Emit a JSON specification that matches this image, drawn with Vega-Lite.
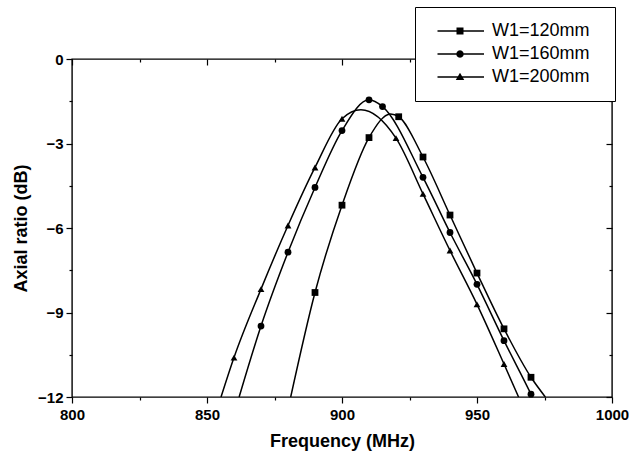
{
  "$schema": "https://vega.github.io/schema/vega-lite/v6.json",
  "width": 540,
  "height": 338,
  "autosize": {"type": "none"},
  "padding": {"left": 72, "top": 59, "right": 17, "bottom": 59},
  "background": "white",
  "config": {
    "view": {"stroke": "black", "strokeWidth": 1.4},
    "font": "Liberation Sans"
  },
  "data": {
    "values": [
      {"s": "W1=120mm", "f": 881, "v": -12, "m": false},
      {"s": "W1=120mm", "f": 890, "v": -8.29, "m": true},
      {"s": "W1=120mm", "f": 900, "v": -5.19, "m": true},
      {"s": "W1=120mm", "f": 910, "v": -2.79, "m": true},
      {"s": "W1=120mm", "f": 918, "v": -1.95, "m": false},
      {"s": "W1=120mm", "f": 921, "v": -2.05, "m": true},
      {"s": "W1=120mm", "f": 930, "v": -3.48, "m": true},
      {"s": "W1=120mm", "f": 940, "v": -5.54, "m": true},
      {"s": "W1=120mm", "f": 950, "v": -7.6, "m": true},
      {"s": "W1=120mm", "f": 960, "v": -9.58, "m": true},
      {"s": "W1=120mm", "f": 970, "v": -11.3, "m": true},
      {"s": "W1=120mm", "f": 975.3, "v": -12, "m": false},
      {"s": "W1=160mm", "f": 861.9, "v": -12, "m": false},
      {"s": "W1=160mm", "f": 870, "v": -9.48, "m": true},
      {"s": "W1=160mm", "f": 880, "v": -6.86, "m": true},
      {"s": "W1=160mm", "f": 890, "v": -4.56, "m": true},
      {"s": "W1=160mm", "f": 900, "v": -2.54, "m": true},
      {"s": "W1=160mm", "f": 910, "v": -1.45, "m": true},
      {"s": "W1=160mm", "f": 915, "v": -1.69, "m": true},
      {"s": "W1=160mm", "f": 930, "v": -4.2, "m": true},
      {"s": "W1=160mm", "f": 940, "v": -6.16, "m": true},
      {"s": "W1=160mm", "f": 950, "v": -8.0, "m": true},
      {"s": "W1=160mm", "f": 960, "v": -10.0, "m": true},
      {"s": "W1=160mm", "f": 970, "v": -11.9, "m": true},
      {"s": "W1=160mm", "f": 970.5, "v": -12, "m": false},
      {"s": "W1=200mm", "f": 855.2, "v": -12, "m": false},
      {"s": "W1=200mm", "f": 860, "v": -10.6, "m": true},
      {"s": "W1=200mm", "f": 870, "v": -8.17, "m": true},
      {"s": "W1=200mm", "f": 880, "v": -5.91, "m": true},
      {"s": "W1=200mm", "f": 890, "v": -3.85, "m": true},
      {"s": "W1=200mm", "f": 900, "v": -2.12, "m": true},
      {"s": "W1=200mm", "f": 907, "v": -1.8, "m": false},
      {"s": "W1=200mm", "f": 920, "v": -2.81, "m": true},
      {"s": "W1=200mm", "f": 930, "v": -4.79, "m": true},
      {"s": "W1=200mm", "f": 940, "v": -6.8, "m": true},
      {"s": "W1=200mm", "f": 950, "v": -8.71, "m": true},
      {"s": "W1=200mm", "f": 960, "v": -10.83, "m": true},
      {"s": "W1=200mm", "f": 965.4, "v": -12, "m": false}
    ]
  },
  "layer": [
    {
      "mark": {"type": "line", "color": "black", "strokeWidth": 1.5, "interpolate": "monotone", "clip": true},
      "encoding": {
        "x": {"field": "f", "type": "quantitative", "scale": {"domain": [800, 1000], "nice": false, "zero": false},
          "axis": {"orient": "bottom", "values": [800, 825, 850, 875, 900, 925, 950, 975, 1000], "format": "d",
            "labelExpr": "datum.value % 50 === 0 ? datum.label : ''",
            "tickSize": {"condition": {"test": "datum.value % 50 === 0", "value": 6}, "value": 3},
            "tickColor": "black", "tickWidth": 1.2, "domain": false, "grid": false,
            "labelFont": "Liberation Sans", "labelFontWeight": "bold", "labelFontSize": 15, "labelColor": "black",
            "labelPadding": 4, "labelOverlap": false, "labelFlush": false,
            "title": "Frequency (MHz)", "titleFont": "Liberation Sans", "titleFontSize": 18, "titleFontWeight": "bold", "titleColor": "black", "titlePadding": 10}},
        "y": {"field": "v", "type": "quantitative", "scale": {"domain": [-12, 0], "nice": false, "zero": false},
          "axis": {"orient": "left", "values": [0, -1.5, -3, -4.5, -6, -7.5, -9, -10.5, -12], "format": "d",
            "labelExpr": "datum.value % 3 === 0 ? datum.label : ''",
            "tickSize": {"condition": {"test": "datum.value % 3 === 0", "value": 6}, "value": 3},
            "tickColor": "black", "tickWidth": 1.2, "domain": false, "grid": false,
            "labelFont": "Liberation Sans", "labelFontWeight": "bold", "labelFontSize": 15, "labelColor": "black",
            "labelPadding": 3, "labelOverlap": false, "labelFlush": false,
            "title": "Axial ratio (dB)", "titleFont": "Liberation Sans", "titleFontSize": 18, "titleFontWeight": "bold", "titleColor": "black", "titlePadding": 7}},
        "detail": {"field": "s"}
      }
    },
    {
      "transform": [{"filter": "datum.m"}],
      "mark": {"type": "point", "filled": true, "color": "black", "opacity": 1, "size": 46},
      "encoding": {
        "x": {"field": "f", "type": "quantitative",
          "axis": {"orient": "top", "values": [800, 825, 850, 875, 900, 925, 950, 975, 1000], "labels": false, "title": null,
            "tickSize": {"condition": {"test": "datum.value % 50 === 0", "value": -6}, "value": -3},
            "tickColor": "black", "tickWidth": 1.2, "domain": false, "grid": false}},
        "y": {"field": "v", "type": "quantitative",
          "axis": {"orient": "right", "values": [0, -1.5, -3, -4.5, -6, -7.5, -9, -10.5, -12], "labels": false, "title": null,
            "tickSize": {"condition": {"test": "datum.value % 3 === 0", "value": -6}, "value": -3},
            "tickColor": "black", "tickWidth": 1.2, "domain": false, "grid": false}},
        "shape": {"field": "s", "type": "nominal",
          "scale": {"domain": ["W1=120mm", "W1=160mm", "W1=200mm"], "range": ["square", "circle", "triangle-up"]},
          "legend": null}
      }
    },
    {
      "transform": [{"filter": "datum.m"}],
      "mark": {"type": "point", "filled": true, "color": "black", "opacity": 0, "size": 100},
      "encoding": {
        "x": {"field": "f", "type": "quantitative", "axis": null},
        "y": {"field": "v", "type": "quantitative", "axis": null},
        "shape": {"field": "s", "type": "nominal",
          "scale": {"domain": ["W1=120mm", "W1=160mm", "W1=200mm"],
            "range": [
              "M-0.3,-0.14H9V0.14H-0.3ZM3.5,-0.7H4.9V0.7H3.5Z",
              "M-0.3,-0.14H9V0.14H-0.3ZM4.95,0L4.85,0.375L4.575,0.65L4.2,0.75L3.825,0.65L3.55,0.375L3.45,0L3.55,-0.375L3.825,-0.65L4.2,-0.75L4.575,-0.65L4.85,-0.375Z",
              "M-0.3,-0.14H9V0.14H-0.3ZM4.2,-0.85L5.05,0.6L3.35,0.6Z"
            ]},
          "legend": {"orient": "none", "legendX": 343, "legendY": -52,
            "title": ".", "titleOrient": "right", "titleColor": "white", "titleFontSize": 6, "titlePadding": 8,
            "strokeColor": "black", "fillColor": "white", "padding": 15,
            "symbolSize": 100, "symbolFillColor": "black", "symbolStrokeColor": "black", "symbolStrokeWidth": 0, "symbolOpacity": 1,
            "labelFont": "Liberation Sans", "labelFontSize": 18, "labelColor": "black", "labelOffset": 44,
            "rowPadding": 5}
        }
      }
    }
  ],
  "resolve": {"axis": {"x": "independent", "y": "independent"}, "scale": {"shape": "independent"}}
}
